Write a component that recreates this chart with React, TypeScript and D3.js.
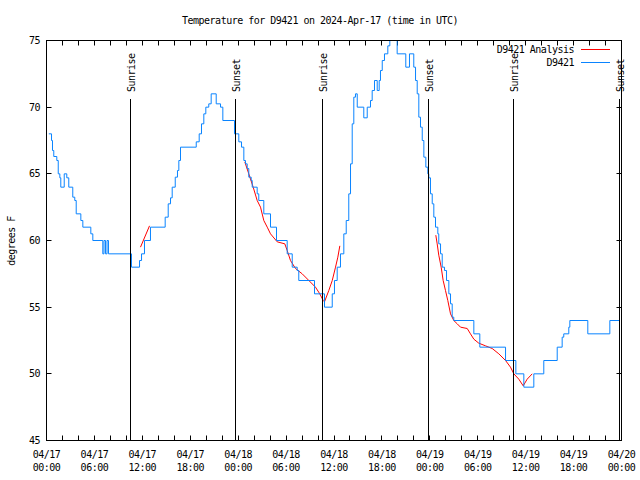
import React from 'react';
import * as d3 from 'd3';

const W = 640;
const H = 480;
const PLOT = { left: 46.5, right: 621.5, top: 40.5, bottom: 440.5 };

const titleText = 'Temperature for D9421 on 2024-Apr-17 (time in UTC)';
const yAxisLabel = 'degrees F';
const yTicks = [45, 50, 55, 60, 65, 70, 75];
const xLabelHours = [0, 6, 12, 18, 24, 30, 36, 42, 48, 54, 60, 66, 72];
const xLabelDates = ['04/17', '04/17', '04/17', '04/17', '04/18', '04/18', '04/18', '04/18', '04/19', '04/19', '04/19', '04/19', '04/20'];
const xLabelTimes = ['00:00', '06:00', '12:00', '18:00', '00:00', '06:00', '12:00', '18:00', '00:00', '06:00', '12:00', '18:00', '00:00'];

const legendNames = ['D9421 Analysis', 'D9421'];

// Observed station temperature (hours since 04/17 00:00 UTC, deg F)
const obsHours = [
  0.29, 0.63, 0.75, 0.91, 1.29, 1.47, 1.67, 1.79, 2.22, 2.54, 2.79, 3.29, 3.54, 3.72, 4.3, 4.55,
  5.55, 5.8, 7.05, 7.2, 7.39, 7.58, 7.76, 10.64, 11.65, 11.9, 12.27, 13.02, 14.86, 15.24, 15.53,
  15.74, 16.12, 16.4, 16.57, 16.78, 18.75, 19.12, 19.41, 19.7, 19.95, 20.32, 20.62, 21.25, 21.79,
  22.08, 23.54, 24.08, 24.42, 24.71, 24.92, 25.13, 25.33, 25.63, 25.76, 26.38, 26.58, 27.21, 28.05,
  28.8, 30.14, 30.77, 31.39, 31.59, 33.56, 34.81, 35.78, 36.06, 36.4, 36.81, 37.23, 37.53, 37.85,
  38.07, 38.28, 38.48, 38.69, 38.91, 39.73, 40.16, 40.57, 40.78, 41.07, 41.41, 41.66, 41.82, 42.04,
  42.32, 42.74, 42.99, 43.2, 43.7, 43.91, 44.99, 45.45, 45.99, 46.21, 46.42, 46.62, 46.83, 47.05,
  47.25, 47.5, 47.75, 47.87, 48.08, 48.3, 48.5, 48.71, 49.0, 49.12, 49.34, 49.55, 49.84, 50.09,
  50.38, 50.59, 50.8, 51.0, 53.51, 54.26, 57.48, 58.77, 59.77, 61.02, 62.27, 63.95, 64.57, 64.77,
  65.4, 65.53, 67.78, 70.54, 71.79,
];
const obsTemps = [
  68, 67.5, 66.75, 66.3, 66, 65, 64.7, 64, 65, 64.7, 64, 63.25, 63, 62, 61.5, 61,
  60.5, 60, 59, 60, 59, 60, 59, 58, 58.5, 59, 60, 61, 61.75, 62.75, 63.2,
  64, 64.75, 65.25, 66, 67, 67.4, 68, 68.75, 69.5, 70, 70.25, 71, 70.25, 70,
  69, 68, 67.4, 67, 66, 65.75, 65.4, 64.75, 64.5, 64, 63.5, 63, 62, 61,
  60, 59, 58, 57.75, 57, 56, 55, 56, 57, 58, 59, 60.5, 61.5, 63.5,
  65.75, 68.75, 70.75, 71, 70, 69.2, 70, 70.5, 71.25, 72, 71.25, 72, 72.75, 73.5,
  74, 74.6, 75, 76, 75, 74, 73, 74, 73, 72, 71, 69.25, 68.5, 67.5,
  66.25, 65.5, 65, 64.7, 63.5, 62.75, 61.75, 61, 60.5, 59.75, 59, 58, 57.75, 57,
  56, 55.25, 54.25, 54, 53, 52, 51, 50, 49, 50, 51, 52, 52.75, 53,
  53.5, 54, 53, 54, 54,
];

// Analysis segments
const ana1Hours = [11.77, 12.9];
const ana1Temps = [59.5, 61.1];
const ana2Hours = [
  24.83, 25.33, 25.88, 26.38, 26.8, 27.21, 27.64, 28.05, 28.89, 29.84, 30.14, 30.55, 31.18, 32.02,
  32.85, 33.68, 34.22, 34.65, 34.81, 35.35, 35.78, 36.19, 36.48, 36.73,
];
const ana2Temps = [
  65.9, 65, 64, 63, 62.5, 61.5, 61, 60.5, 59.9, 59.75, 59.25, 58.5, 57.9, 57.5,
  57, 56.5, 56, 55.5, 55.4, 56.25, 57, 58, 58.75, 59.6,
];
const ana3Hours = [
  48.75, 48.92, 49.12, 49.42, 49.67, 49.96, 50.25, 50.59, 51.0, 51.43, 51.84, 52.68, 53.09, 53.51,
  54.13, 54.97, 55.81, 56.64, 57.48, 58.1, 58.52, 59.14, 59.69, 60.19, 60.82,
];
const ana3Temps = [
  60.4, 59.75, 58.9, 58, 57, 56.25, 55.5, 54.5, 54, 53.75, 53.5, 53.4, 53, 52.6,
  52.3, 52.1, 51.9, 51.5, 51, 50.5, 50, 49.6, 49.1, 49.6, 50,
];

const sunHours = [10.56, 23.7, 34.6, 47.8, 58.52, 71.75];
const sunLabels = ['Sunrise', 'Sunset', 'Sunrise', 'Sunset', 'Sunrise', 'Sunset'];

const FONT = "'DejaVu Sans Mono', monospace";
const BLUE = '#0a84ff';
const RED = '#ff0000';

export default function App() {
  const x = d3.scaleLinear().domain([0, 72]).range([PLOT.left, PLOT.right]);
  const y = d3.scaleLinear().domain([45, 75]).range([PLOT.bottom, PLOT.top]);

  const stepLine = d3
    .line<number>()
    .x((_, i) => x(obsHours[i]))
    .y((_, i) => y(obsTemps[i]))
    .curve(d3.curveStepAfter);
  const anaLine = (hs: number[], ts: number[]) =>
    d3
      .line<number>()
      .x((_, i) => x(hs[i]))
      .y((_, i) => y(ts[i]))(ts) || '';

  const minorTicks = d3.range(0, 73, 2);
  const textStyle: React.CSSProperties = { fontFamily: FONT, fontSize: 10, letterSpacing: -0.5 };

  return (
    <svg width={W} height={H} style={{ position: 'absolute', left: 0, top: 0, background: '#fff' }}>
      <defs>
        <clipPath id="plotclip">
          <rect x={PLOT.left} y={PLOT.top} width={PLOT.right - PLOT.left} height={PLOT.bottom - PLOT.top} />
        </clipPath>
      </defs>
      <rect x={0} y={0} width={W} height={H} fill="#fff" />
      <text x={320} y={24} textAnchor="middle" style={textStyle} fill="#000">
        {titleText}
      </text>

      {/* Y ticks and labels */}
      {yTicks.map((t) => (
        <g key={'y' + t}>
          <line x1={PLOT.left} x2={PLOT.left + 5} y1={Math.round(y(t) - 0.5) + 0.5} y2={Math.round(y(t) - 0.5) + 0.5} stroke="#000" />
          <line x1={PLOT.right} x2={PLOT.right - 5} y1={Math.round(y(t) - 0.5) + 0.5} y2={Math.round(y(t) - 0.5) + 0.5} stroke="#000" />
          <text x={40} y={y(t)} dy="0.35em" textAnchor="end" style={textStyle} fill="#000">
            {t}
          </text>
        </g>
      ))}

      {/* X ticks */}
      {minorTicks.map((h) => {
        const xx = Math.round(x(h) - 0.5) + 0.5;
        return (
          <g key={'x' + h}>
            <line x1={xx} x2={xx} y1={PLOT.bottom} y2={PLOT.bottom - 5} stroke="#000" />
            <line x1={xx} x2={xx} y1={PLOT.top} y2={PLOT.top + 5} stroke="#000" />
          </g>
        );
      })}
      {xLabelHours.map((h, i) => (
        <g key={'xl' + h}>
          <text x={x(h)} y={458} textAnchor="middle" style={textStyle} fill="#000">
            {xLabelDates[i]}
          </text>
          <text x={x(h)} y={471} textAnchor="middle" style={textStyle} fill="#000">
            {xLabelTimes[i]}
          </text>
        </g>
      ))}

      <text
        transform={`translate(11,241) rotate(-90)`}
        textAnchor="middle"
        dy="0.35em"
        style={textStyle}
        fill="#000"
      >
        {yAxisLabel}
      </text>

      {/* data */}
      <g clipPath="url(#plotclip)">
        <path d={anaLine(ana1Hours, ana1Temps)} fill="none" stroke={RED} strokeWidth={1} />
        <path d={anaLine(ana2Hours, ana2Temps)} fill="none" stroke={RED} strokeWidth={1} />
        <path d={anaLine(ana3Hours, ana3Temps)} fill="none" stroke={RED} strokeWidth={1} />
        <path d={stepLine(obsTemps) || ''} fill="none" stroke={BLUE} strokeWidth={1} />
      </g>

      {/* sunrise / sunset markers */}
      {sunHours.map((h, i) => {
        const xx = Math.round(x(h) - 0.5) + 0.5;
        return (
          <g key={'s' + i}>
            <line x1={xx} x2={xx} y1={99} y2={PLOT.bottom} stroke="#000" />
            <text
              transform={`translate(${xx + 1},92) rotate(-90)`}
              dy="0.35em"
              textAnchor="start"
              style={textStyle}
              fill="#000"
            >
              {sunLabels[i]}
            </text>
          </g>
        );
      })}

      {/* legend */}
      {legendNames.map((name, i) => {
        const ly = 49.5 + i * 13;
        return (
          <g key={'lg' + i}>
            <text x={574} y={ly} dy="0.35em" textAnchor="end" style={textStyle} fill="#000">
              {name}
            </text>
            <line x1={581} x2={610} y1={ly} y2={ly} stroke={i === 0 ? RED : BLUE} />
          </g>
        );
      })}

      {/* border */}
      <rect
        x={PLOT.left}
        y={PLOT.top}
        width={PLOT.right - PLOT.left}
        height={PLOT.bottom - PLOT.top}
        fill="none"
        stroke="#000"
      />
    </svg>
  );
}
